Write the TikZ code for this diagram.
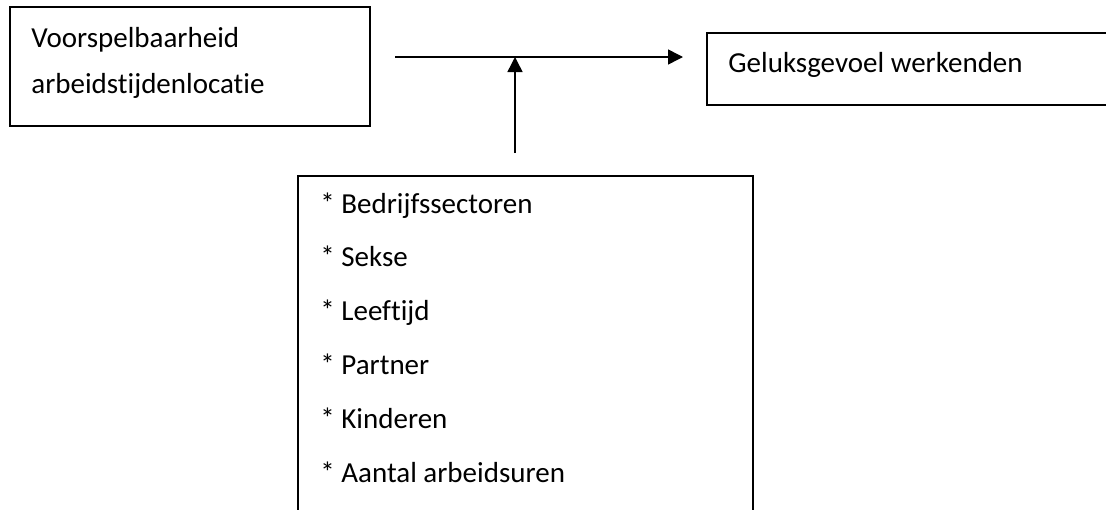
\documentclass[tikz,border=0pt]{standalone}
\usepackage{fontspec}
\setmainfont{Carlito}[Ligatures={NoCommon}]
\usetikzlibrary{arrows.meta, positioning}

\begin{document}
\begin{tikzpicture}[
			x=0.5pt, y=-0.5pt,
			every node/.style={font=\fontsize{14.5}{17}\selectfont},
			box/.style={draw,rectangle,line width=0.75pt,inner sep=0pt,outer sep=0pt,anchor=north west},
			txt/.style={inner sep=0pt,anchor=base west},
			arr/.style={line width=0.75pt,-{Triangle[length=7.5pt,width=7.5pt]}}
		]
			\useasboundingbox (0,0) rectangle (1106,509);
			\clip (0,0) rectangle (1106,509);

			% boxes
			\node (pred) [box,minimum width=180pt,minimum height=59.5pt] at (10,7) {};
			\node (outcome) [box,minimum width=211.5pt,minimum height=36pt] at (707,33) {};
			\node (mod) [box,minimum width=227.5pt,minimum height=180pt] at (298,176) {};

			% texts
			\node (predA) [txt] at (31,47) {Voorspelbaarheid};
			\node (predB) [txt] at (31,93) {arbeidstijdenlocatie};
			\node (outcomeTxt) [txt] at (728,72) {Geluksgevoel werkenden};
			\foreach \t [count=\i] in {Bedrijfssectoren, Sekse, Leeftijd, Partner, Kinderen, Aantal arbeidsuren}
				\node (mod\i) [txt] at (320,{213+53.8*(\i-1)}) {* \t};

			% arrows
			\coordinate (mid) at (515,57);
			\draw[arr,shorten <=12.5pt,shorten >=12pt] (pred.east |- mid) -- (outcome.west |- mid);
			\draw[arr,shorten <=11.5pt] (mod.north -| mid) -- (mid);
		\end{tikzpicture}
\end{document}
